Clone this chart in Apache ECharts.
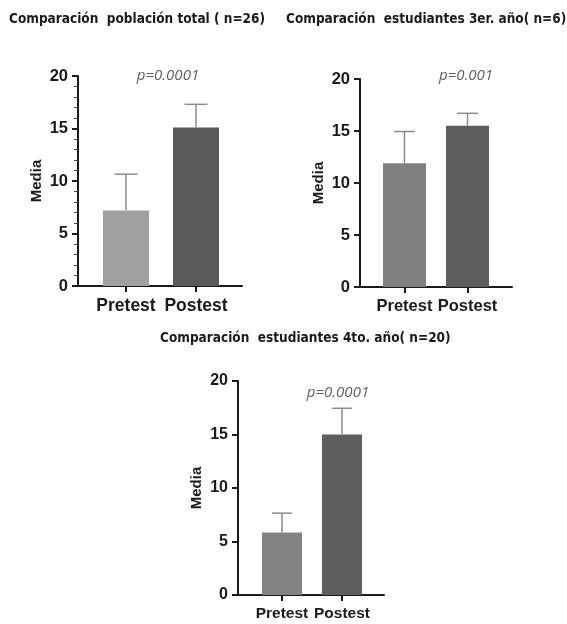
<!DOCTYPE html>
<html>
<head>
<meta charset="utf-8">
<script src="https://cdn.jsdelivr.net/npm/echarts@6/dist/echarts.min.js"></script>
<style>html,body{margin:0;padding:0;background:#fff;}#c{width:567px;height:624px;}</style>
</head>
<body>
<div id="c"></div>
<script>
// ---- data ----
const chartTitles = [
  'Comparación  población total ( n=26)',
  'Comparación  estudiantes 3er. año( n=6)',
  'Comparación  estudiantes 4to. año( n=20)'
];
const categories = ['Pretest', 'Postest'];
const pretestMean = [7.2, 11.9, 5.85];
const pretestErr = [3.45, 3.05, 1.8];
const postestMean = [15.1, 15.5, 15.0];
const postestErr = [2.2, 1.2, 2.45];
const pValues = ['p=0.0001', 'p=0.001', 'p=0.0001'];
const yTicks = [0, 5, 10, 15, 20];

// ---- layout / style ----
const grids = [
  {left: 78, top: 76, width: 164, height: 210, xmin: -0.686, xmax: 1.657, barW: 46, minor: true, xFont: 17.5, yFont: 16.5},
  {left: 360, top: 79, width: 152, height: 208, xmin: -0.706, xmax: 1.706, barW: 43, minor: false, xFont: 16.5, yFont: 16.5},
  {left: 238, top: 381, width: 146, height: 214, xmin: -0.733, xmax: 1.7, barW: 40, minor: false, xFont: 15.5, yFont: 16}
];
const barColors = [['#a0a0a3', '#595959'], ['#808080', '#5d5d5d'], ['#838383', '#5e5e5e']];
const titlePos = [{left: 9, top: 12}, {left: 286, top: 12}, {left: 160, top: 331}];
const pPos = [{x: 168, y: 76}, {x: 466, y: 76}, {x: 338, y: 393}];
const yNameGap = [34, 34, 34];

const FONT = 'Liberation Sans, Arial, sans-serif';
const TFONT = "'DejaVu Sans Condensed', 'Liberation Sans', sans-serif";

const option = {
  animation: false,
  backgroundColor: '#fff',
  title: [],
  grid: [], xAxis: [], yAxis: [], series: [],
  graphic: []
};

grids.forEach((g, i) => {
  option.title.push({
    text: chartTitles[i], left: titlePos[i].left, top: titlePos[i].top, padding: 0,
    textStyle: {fontFamily: TFONT, fontSize: 13.5, fontWeight: 'bold', color: '#1a1a1a'}
  });
  option.graphic.push({
    type: 'text', x: pPos[i].x, y: pPos[i].y,
    style: {text: pValues[i], font: 'italic 15px "Open Sans", sans-serif', fill: '#5f5f5f',
            align: 'center', verticalAlign: 'middle'}
  });
  option.grid.push({left: g.left, top: g.top, width: g.width, height: g.height});
  option.xAxis.push({
    type: 'value', gridIndex: i, min: g.xmin, max: g.xmax,
    splitLine: {show: false},
    axisLine: {show: true, onZero: false, lineStyle: {color: '#1a1a1a', width: 2}},
    axisTick: {show: true, length: 6, customValues: [0, 1], lineStyle: {color: '#1a1a1a', width: 2}},
    axisLabel: {
      customValues: [0, 1], margin: 11,
      formatter: v => categories[Math.round(v)],
      fontFamily: FONT, fontWeight: 'bold', fontSize: g.xFont, color: '#1a1a1a'
    }
  });
  option.yAxis.push({
    type: 'value', gridIndex: i, min: 0, max: 20, interval: 5,
    name: 'Media', nameLocation: 'middle', nameGap: yNameGap[i],
    nameTextStyle: {fontFamily: FONT, fontWeight: 'bold', fontSize: 15, color: '#1a1a1a'},
    splitLine: {show: false},
    axisLine: {show: true, onZero: false, lineStyle: {color: '#1a1a1a', width: 2}},
    axisTick: {show: true, length: 6, lineStyle: {color: '#1a1a1a', width: 2}},
    minorTick: {show: g.minor, splitNumber: 5, length: 4, lineStyle: {color: '#444', width: 1}},
    axisLabel: {
      margin: 10, fontFamily: FONT, fontWeight: 'bold', fontSize: g.yFont, color: '#1a1a1a',
      customValues: yTicks
    }
  });
  const barData = [
    {value: [0, pretestMean[i]], itemStyle: {color: barColors[i][0]}},
    {value: [1, postestMean[i]], itemStyle: {color: barColors[i][1]}}
  ];
  option.series.push({
    type: 'bar', xAxisIndex: i, yAxisIndex: i, barWidth: g.barW,
    data: barData, z: 2
  });
  option.series.push({
    type: 'custom', xAxisIndex: i, yAxisIndex: i, z: 3,
    data: [[0, pretestMean[i], pretestErr[i]], [1, postestMean[i], postestErr[i]]],
    renderItem: function (params, api) {
      const x = api.value(0), m = api.value(1), e = api.value(2);
      const p0 = api.coord([x, m]);
      const p1 = api.coord([x, m + e]);
      const half = api.size([0.165, 0])[0];
      const st = {stroke: '#8c8c8c', lineWidth: 1.5};
      return {
        type: 'group',
        children: [
          {type: 'line', shape: {x1: p0[0], y1: p0[1], x2: p1[0], y2: p1[1]}, style: st},
          {type: 'line', shape: {x1: p1[0] - half, y1: p1[1], x2: p1[0] + half, y2: p1[1]}, style: st}
        ]
      };
    }
  });
});

const chart = echarts.init(document.getElementById('c'), null, {renderer: 'canvas'});
chart.setOption(option);
</script>
</body>
</html>
